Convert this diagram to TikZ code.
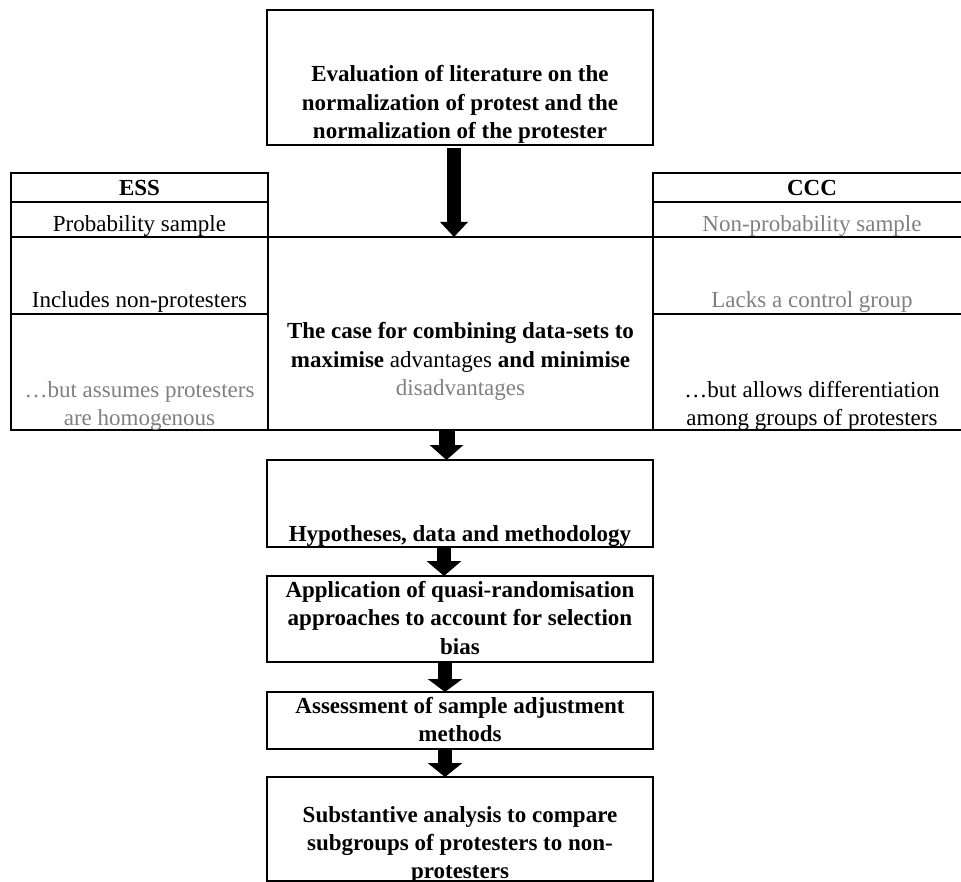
\documentclass[tikz,border=0pt]{standalone}
\usepackage{fontspec}
\setmainfont{Liberation Serif}
\usetikzlibrary{arrows.meta,calc}
\definecolor{txtgray}{RGB}{128,128,128}
\newcommand{\tb}[1]{\parbox[t]{400pt}{\centering\fontsize{23}{28.5}\selectfont\leavevmode #1}}
\begin{document}
\begin{tikzpicture}[x=1pt,y=-1pt,
  box/.style={draw=black, line width=1.2pt, inner sep=0pt, outer sep=0pt, rectangle},
  tx/.style={anchor=base, inner sep=0pt, outer sep=0pt},
  arr/.style={draw=black, line width=14pt, -{Triangle[width=30pt,length=15pt]}}]
\useasboundingbox (0,0) rectangle (961,882);
\clip (0,0) rectangle (961,882);

% boxes
\node[box, minimum width=386pt, minimum height=135pt] (top) at (460,77.5) {};
\node[box, minimum width=257pt, minimum height=29pt] (essH) at (139.5,187.5) {};
\node[box, minimum width=257pt, minimum height=35pt] (ess1) at (139.5,219.5) {};
\node[box, minimum width=257pt, minimum height=77pt] (ess2) at (139.5,275.5) {};
\node[box, minimum width=257pt, minimum height=116pt] (ess3) at (139.5,372) {};
\node[box, minimum width=322pt, minimum height=29pt] (cccH) at (814,187.5) {};
\node[box, minimum width=322pt, minimum height=35pt] (ccc1) at (814,219.5) {};
\node[box, minimum width=322pt, minimum height=77pt] (ccc2) at (814,275.5) {};
\node[box, minimum width=322pt, minimum height=116pt] (ccc3) at (814,372) {};
\node[box, minimum width=385pt, minimum height=193pt] (cen) at (460.5,333.5) {};
\node[box, minimum width=386pt, minimum height=87pt] (hyp) at (460,503.5) {};
\node[box, minimum width=386pt, minimum height=86pt] (app) at (460,619) {};
\node[box, minimum width=386pt, minimum height=57pt] (ass) at (460,720.5) {};
\node[box, minimum width=386pt, minimum height=104pt] (sub) at (460,829) {};

% texts
\node[tx] (topT) at (460,82) {\tb{\bfseries Evaluation of literature on the\\normalization of protest and the\\normalization of the protester}};
\node[tx] (essHT) at (139.5,196) {\tb{\bfseries ESS}};
\node[tx] (ess1T) at (139.5,232) {\tb{Probability sample}};
\node[tx] (ess2T) at (139.5,308) {\tb{Includes non-protesters}};
\node[tx] (ess3T) at (139.5,397) {\tb{\color{txtgray}…but assumes protesters\\are homogenous}};
\node[tx] (cccHT) at (812,196) {\tb{\bfseries CCC}};
\node[tx] (ccc1T) at (812,232) {\tb{\color{txtgray}Non-probability sample}};
\node[tx] (ccc2T) at (812,308) {\tb{\color{txtgray}Lacks a control group}};
\node[tx] (ccc3T) at (812,397) {\tb{…but allows differentiation\\among groups of protesters}};
\node[tx] (cenT) at (460.5,339) {\tb{\bfseries The case for combining data-sets to\\maximise {\mdseries advantages} and minimise\\{\mdseries\color{txtgray}disadvantages}}};
\node[tx] (hypT) at (460,541) {\tb{\bfseries Hypotheses, data and methodology}};
\node[tx] (appT) at (460,597) {\tb{\bfseries Application of quasi-randomisation\\approaches to account for selection\\bias}};
\node[tx] (assT) at (460,713) {\tb{\bfseries Assessment of sample adjustment\\methods}};
\node[tx] (subT) at (460,822) {\tb{\fontsize{23}{28}\selectfont\bfseries Substantive analysis to compare\\subgroups of protesters to non-\\protesters}};

% arrows
\draw[arr, line width=14pt, -{Triangle[width=27pt,length=15pt]}] ($(top.south)+(-6,3)$) -- ($(cen.north)+(-6.5,0)$);
\draw[arr, line width=16pt, -{Triangle[width=33pt,length=15pt]}] ($(cen.south)+(-14,0)$) -- ($(hyp.north)+(-13.5,0)$);
\draw[arr, line width=14pt, -{Triangle[width=34pt,length=15pt]}] ($(hyp.south)+(-16,0)$) -- ($(app.north)+(-16,0)$);
\draw[arr, line width=14pt, -{Triangle[width=34pt,length=13pt]}] ($(app.south)+(-15,0)$) -- ($(ass.north)+(-15,0)$);
\draw[arr, line width=14pt, -{Triangle[width=34pt,length=14pt]}] ($(ass.south)+(-15,0)$) -- ($(sub.north)+(-15,0)$);
\end{tikzpicture}
\end{document}
